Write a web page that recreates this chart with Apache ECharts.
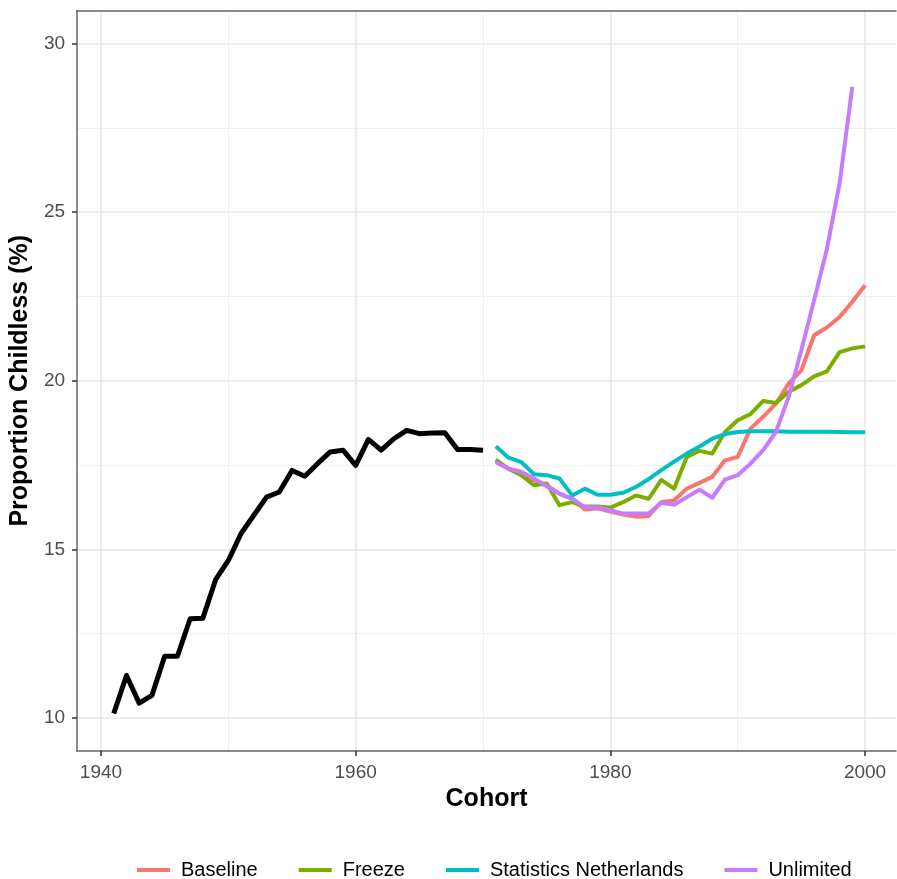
<!DOCTYPE html>
<html>
<head>
<meta charset="utf-8">
<script src="https://cdn.jsdelivr.net/npm/echarts@6/dist/echarts.min.js"></script>
<style>html,body{margin:0;padding:0;background:#fff;}#c{width:897px;height:879px;}</style>
</head>
<body>
<div id="c"></div>
<script>
// ---- data ----
var histYears = [1941,1942,1943,1944,1945,1946,1947,1948,1949,1950,1951,1952,1953,1954,1955,1956,1957,1958,1959,1960,1961,1962,1963,1964,1965,1966,1967,1968,1969,1970];
var histValues = [10.13,11.26,10.44,10.67,11.83,11.83,12.94,12.96,14.10,14.67,15.47,16.01,16.55,16.70,17.34,17.17,17.54,17.89,17.94,17.49,18.26,17.94,18.28,18.53,18.43,18.45,18.46,17.96,17.96,17.94];
var projYears = [1971,1972,1973,1974,1975,1976,1977,1978,1979,1980,1981,1982,1983,1984,1985,1986,1987,1988,1989,1990,1991,1992,1993,1994,1995,1996,1997,1998,1999,2000];
var baseline = [17.60,17.40,17.25,17.05,16.90,16.65,16.50,16.18,16.22,16.12,16.03,15.97,15.99,16.40,16.45,16.80,16.97,17.15,17.64,17.74,18.58,18.93,19.32,19.92,20.31,21.35,21.58,21.89,22.34,22.83];
var freeze = [17.66,17.39,17.20,16.90,16.95,16.31,16.40,16.27,16.27,16.24,16.40,16.60,16.50,17.06,16.80,17.74,17.92,17.84,18.48,18.83,19.01,19.40,19.34,19.67,19.87,20.13,20.28,20.85,20.96,21.02];
var statsNL = [18.06,17.72,17.59,17.23,17.20,17.10,16.60,16.80,16.62,16.62,16.68,16.85,17.08,17.35,17.60,17.84,18.05,18.28,18.42,18.48,18.50,18.50,18.50,18.49,18.49,18.49,18.49,18.48,18.47,18.47];
var unlimited = [17.59,17.39,17.30,17.10,16.87,16.65,16.50,16.25,16.25,16.16,16.06,16.06,16.06,16.38,16.32,16.55,16.77,16.53,17.07,17.20,17.54,17.94,18.48,19.52,20.91,22.39,23.90,25.85,28.72,null];
var seriesNames = ['Baseline','Freeze','Statistics Netherlands','Unlimited'];
var seriesColors = ['#F8766D','#7CAE00','#00BFC4','#C77CFF'];
var xTicks = [1940,1960,1980,2000];
var yTicks = [10,15,20,25,30];
var xMinorGrid = [1950,1970,1990];
var yMinorGrid = [12.5,17.5,22.5,27.5];

function pairs(xs, ys){ return xs.map(function(x,i){ return [x, ys[i]]; }); }

var FONT = 'Liberation Sans';
var chart = echarts.init(document.getElementById('c'), null, {renderer:'canvas'});

function gridLines(vals, key, width, color){
  return vals.map(function(v){ var o = {}; o[key] = v; o.lineStyle = {width: width, color: color, type: 'solid'}; return o; });
}

var projSets = [baseline, freeze, statsNL, unlimited];
var series = [{
  type: 'line', name: '_grid', data: [], silent: true, z: 0,
  markLine: {
    z: 0, silent: true, symbol: ['none','none'], label: {show:false}, animation: false,
    emphasis: {disabled: true},
    data: [].concat(
      gridLines(xMinorGrid,'xAxis',1,'#efefef'),
      gridLines(yMinorGrid,'yAxis',1,'#efefef'),
      gridLines(xTicks,'xAxis',1.6,'#e8e8e8'),
      gridLines(yTicks,'yAxis',1.6,'#e8e8e8'))
  }
},{
  type: 'line', name: 'Observed', data: pairs(histYears, histValues),
  showSymbol: false, symbol: 'none', z: 3,
  lineStyle: {color: '#000', width: 5, join: 'round'}, itemStyle: {color: '#000'}
}];
projSets.forEach(function(vals, i){
  series.push({
    type: 'line', name: seriesNames[i], data: pairs(projYears, vals),
    showSymbol: false, symbol: 'none', z: 3 + i, connectNulls: false,
    lineStyle: {color: seriesColors[i], width: 4, join: 'round'},
    itemStyle: {color: seriesColors[i]}
  });
});

var borderLine = {show: true, lineStyle: {color: '#666', width: 1.5}};

chart.setOption({
  animation: false,
  backgroundColor: '#fff',
  textStyle: {fontFamily: FONT},
  grid: {left: 76, top: 10.5, width: 820, height: 740.5, show: false},
  xAxis: [{
    type: 'value', min: 1938.118, max: 2002.43, position: 'bottom',
    splitLine: {show: false},
    axisLine: borderLine,
    axisTick: {show: true, length: 5, lineStyle: {color: '#333', width: 1.5}, customValues: xTicks},
    axisLabel: {customValues: xTicks, color: '#4d4d4d', fontSize: 19, fontFamily: FONT, margin: 12,
      formatter: function(v){ return String(v); }},
    name: 'Cohort', nameLocation: 'middle', nameGap: 35,
    nameTextStyle: {fontSize: 25, fontWeight: 'bold', color: '#000', fontFamily: FONT}
  },{
    type: 'value', min: 1938.118, max: 2002.43, position: 'top',
    splitLine: {show: false}, axisLine: borderLine,
    axisTick: {show: false}, axisLabel: {show: false}
  }],
  yAxis: {
    type: 'value', min: 9.02, max: 30.98,
    splitLine: {show: false},
    axisLine: borderLine,
    axisTick: {show: true, length: 5, lineStyle: {color: '#333', width: 1.5}, customValues: yTicks},
    axisLabel: {customValues: yTicks, color: '#4d4d4d', fontSize: 19, fontFamily: FONT, margin: 12,
      formatter: function(v){ return String(v); }},
    name: 'Proportion Childless (%)', nameLocation: 'middle', nameGap: 41,
    nameTextStyle: {fontSize: 25, fontWeight: 'bold', color: '#000', fontFamily: FONT}
  },
  legend: {
    data: seriesNames, left: 137, top: 860, padding: 0,
    icon: 'rect', itemWidth: 33, itemHeight: 4, itemGap: 41,
    textStyle: {fontSize: 20, color: '#000', fontFamily: FONT, padding: [0,0,0,6]},
    selectedMode: false
  },
  series: series
});
</script>
</body>
</html>
